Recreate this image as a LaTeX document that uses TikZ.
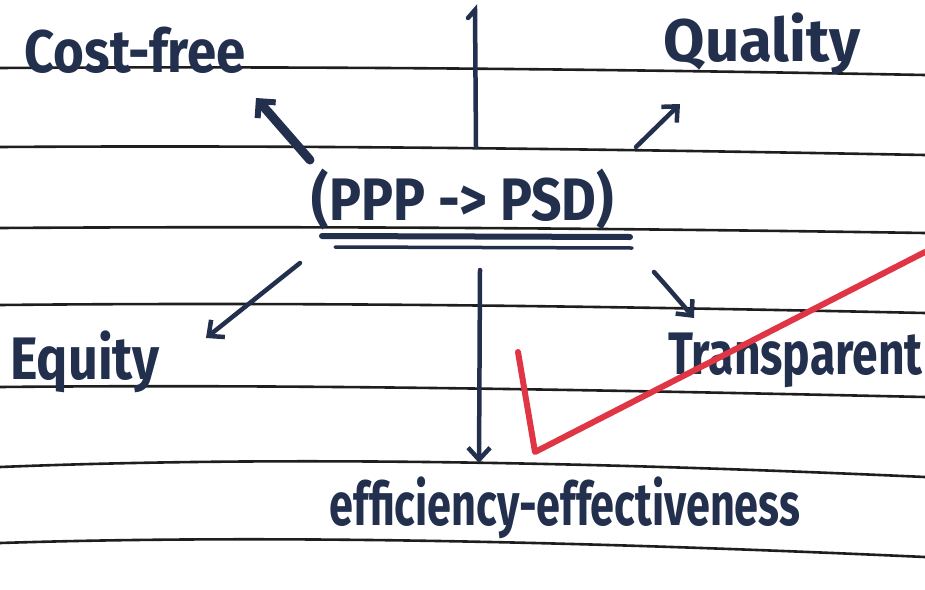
\documentclass[tikz,border=0pt]{standalone}
\usepackage{fontspec}
\setmainfont{Fira Sans}
\usetikzlibrary{arrows.meta}
\definecolor{ink}{HTML}{22304D}
\definecolor{rulec}{HTML}{1E1E1E}
\definecolor{redpen}{HTML}{E03545}
\newcommand{\hsq}[2]{\scalebox{#1}[1]{#2}}
\begin{document}
\begin{tikzpicture}[x=1pt,y=-1pt,
  lbl/.style={text=ink,inner sep=0pt,font=\fontsize{60}{64}\selectfont\bfseries},
  ruleline/.style={draw=rulec,line width=2.6pt},
  arr/.style={draw=ink,line width=4.5pt,line cap=round,-{Straight Barb[length=12pt,width=22pt,line width=4.5pt]}},
  thickarr/.style={draw=ink,line width=9pt,line cap=round,-{Straight Barb[length=12pt,width=24pt,line width=6pt]}},
  plain/.style={draw=ink,line width=4.5pt,line cap=round}]
\fill[white] (0,0) rectangle (925,589);
\useasboundingbox (0,0) rectangle (925,589);
% ruled lines
\draw[ruleline] (0,68) .. controls (300,66) and (600,69) .. (925,75);
\draw[ruleline] (0,147) .. controls (300,145) and (600,149) .. (925,155);
\draw[ruleline] (0,228) .. controls (300,226) and (600,228) .. (925,233);
\draw[ruleline] (0,305) .. controls (300,302) and (600,306) .. (925,313);
\draw[ruleline] (0,387) .. controls (300,384) and (600,390) .. (925,397);
\draw[ruleline] (0,467) .. controls (250,457) and (550,460) .. (925,477);
\draw[ruleline] (0,543) .. controls (250,535) and (550,540) .. (925,557);
% labels
\node[lbl] (cost) at (135,50) {\hsq{0.88}{Cost-free}};
\node[lbl] (qual) at (762,44) {\hsq{1.0}{Quality}};
\node[lbl] (psd) at (463,199) {\hsq{0.89}{(PPP -> PSD)}};
\node[lbl] (eq) at (85,362) {\hsq{0.87}{Equity}};
\node[lbl,anchor=west] (tr) at (668,360) {\hsq{0.77}{Transparent}};
\node[lbl] (eff) at (565,508) {\hsq{0.72}{efficiency-effectiveness}};
% double underline
\coordinate (u1a) at (322,236); \coordinate (u1b) at (630,237);
\coordinate (u2a) at (335,247); \coordinate (u2b) at (632,248);
\draw[plain,line width=6pt] (u1a) -- (u1b);
\draw[plain,line width=3.5pt] (u2a) -- (u2b);
% arrows
\coordinate (c1) at (310,160); \coordinate (c1e) at (256,98);
\draw[thickarr] (c1) -- (c1e);
\coordinate (t1) at (476,147); \coordinate (t1e) at (475,10); \coordinate (t1h) at (468,18);
\draw[plain] (t1) -- (t1e) -- (t1h);
\coordinate (q1) at (636,147); \coordinate (q1e) at (680,104);
\draw[arr] (q1) -- (q1e);
\coordinate (e1) at (300,263); \coordinate (e1e) at (206,338);
\draw[arr] (e1) -- (e1e);
\coordinate (d1) at (480,270); \coordinate (d1e) at (479,463);
\draw[arr] (d1) -- (d1e);
\coordinate (r1) at (654,272); \coordinate (r1e) at (694,318);
\draw[arr] (r1) .. controls (670,290) .. (r1e);
% red check mark
\coordinate (ck1) at (518,352); \coordinate (ck2) at (535,452); \coordinate (ck3) at (925,252);
\draw[draw=redpen,line width=6pt,line cap=round,line join=round] (ck1) -- (ck2) -- (ck3);
\end{tikzpicture}
\end{document}
